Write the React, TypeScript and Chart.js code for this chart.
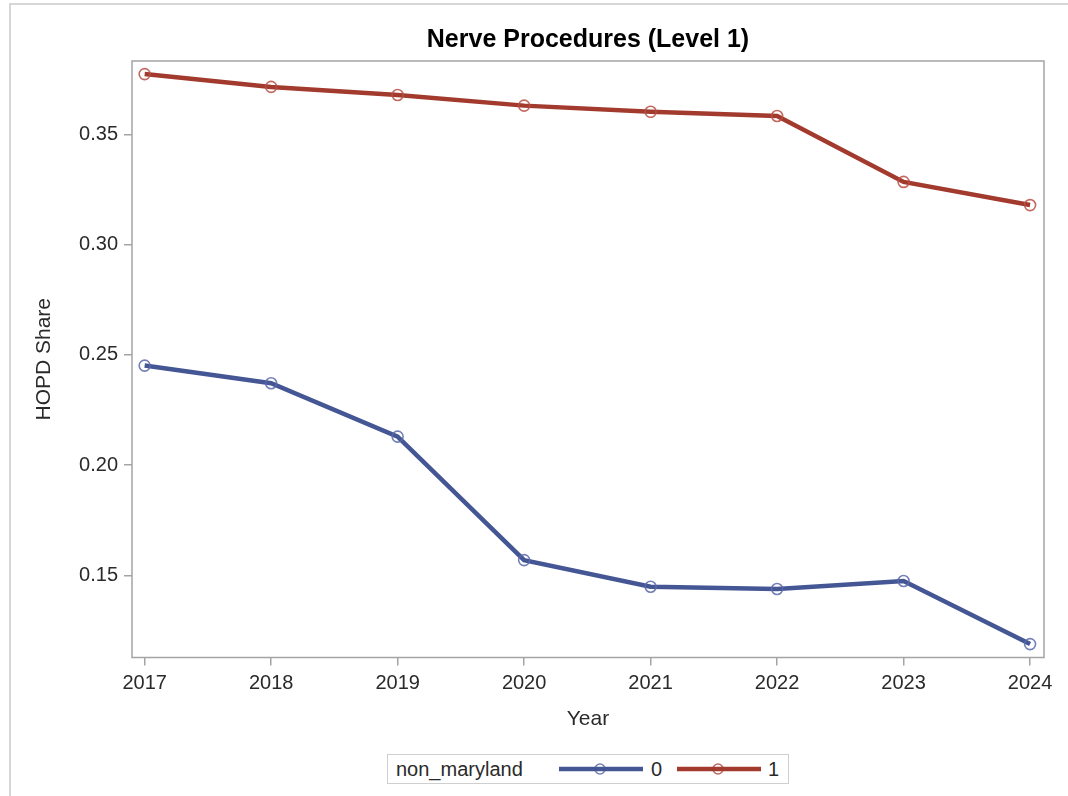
import React, { useEffect, useRef } from "react";
import { Chart, registerables } from "chart.js";

Chart.register(...registerables);

const years = [2017, 2018, 2019, 2020, 2021, 2022, 2023, 2024];
const nonMaryland0 = [0.2451, 0.2371, 0.2129, 0.1569, 0.1448, 0.1438, 0.1474, 0.1188];
const nonMaryland1 = [0.3773, 0.3715, 0.3678, 0.363, 0.3602, 0.3583, 0.3284, 0.3179];
const yTickValues = [0.15, 0.2, 0.25, 0.3, 0.35];
const xTickValues = years;
const seriesLabels = ["0", "1"];
const legendTitle = "non_maryland";
const chartTitle = "Nerve Procedures (Level 1)";
const xTitle = "Year";
const yTitle = "HOPD Share";

const BLUE = "#445694";
const RED = "#A23A2E";
const FONT = "'Liberation Sans', Arial, sans-serif";
const TEXT = "#2a2a2a";
const FRAME = "#a4a4a4";

const framePlugin = {
  id: "frame",
  afterDatasetsDraw(chart: any) {
    const { ctx, chartArea } = chart;
    ctx.save();
    ctx.strokeStyle = FRAME;
    ctx.lineWidth = 1.5;
    ctx.strokeRect(chartArea.left, chartArea.top, chartArea.right - chartArea.left, chartArea.bottom - chartArea.top);
    ctx.restore();
  },
};

function LegendLine({ color }: { color: string }) {
  return (
    <svg width={84} height={14} style={{ display: "block" }}>
      <line x1={0} y1={7} x2={84} y2={7} stroke={color} strokeWidth={4.5} />
      <circle cx={41} cy={7} r={5} fill="none" stroke={color} strokeOpacity={0.75} strokeWidth={1.5} />
    </svg>
  );
}

export default function App() {
  const ref = useRef<HTMLCanvasElement | null>(null);

  useEffect(() => {
    if (!ref.current) return;
    const mk = (vals: number[]) => years.map((x, i) => ({ x, y: vals[i] }));
    const chart = new Chart(ref.current, {
      type: "line",
      data: {
        datasets: [
          {
            label: seriesLabels[0],
            data: mk(nonMaryland0),
            borderColor: BLUE,
            borderWidth: 4.5,
            pointRadius: 5.5,
            pointBorderWidth: 1.6,
            pointBorderColor: "rgba(90,106,170,0.85)",
            pointBackgroundColor: "rgba(0,0,0,0)",
            tension: 0,
          },
          {
            label: seriesLabels[1],
            data: mk(nonMaryland1),
            borderColor: RED,
            borderWidth: 4.5,
            pointRadius: 5.5,
            pointBorderWidth: 1.6,
            pointBorderColor: "rgba(185,80,68,0.85)",
            pointBackgroundColor: "rgba(0,0,0,0)",
            tension: 0,
          },
        ],
      },
      options: {
        responsive: false,
        animation: false,
        layout: { padding: { left: 0, right: 24, top: 0, bottom: 0 } },
        plugins: {
          legend: { display: false },
          tooltip: { enabled: false },
          title: {
            display: true,
            text: chartTitle,
            fullSize: false,
            color: "#000",
            font: { family: FONT, size: 25, weight: "bold", lineHeight: 1.2 },
            padding: { top: 25.5, bottom: 5.5 },
          },
        },
        scales: {
          x: {
            type: "linear",
            min: 2016.9,
            max: 2024.11,
            afterFit: (s: any) => {
              s.height = 87.5;
            },
            afterBuildTicks: (s: any) => {
              s.ticks = xTickValues.map((v) => ({ value: v }));
            },
            border: { display: false },
            grid: { drawOnChartArea: false, drawTicks: true, tickLength: 8, color: FRAME, lineWidth: 1.5 },
            ticks: {
              color: TEXT,
              padding: 6,
              font: { family: FONT, size: 20 },
              autoSkip: false,
              maxRotation: 0,
              callback: (v: any) => String(v),
            },
            title: {
              display: true,
              text: xTitle,
              color: TEXT,
              font: { family: FONT, size: 21, lineHeight: 1.2 },
              padding: { top: 0, bottom: 13.4 },
            },
          },
          y: {
            type: "linear",
            min: 0.11272,
            max: 0.38324,
            afterFit: (s: any) => {
              s.width = 132;
            },
            afterBuildTicks: (s: any) => {
              s.ticks = yTickValues.map((v) => ({ value: v }));
            },
            border: { display: false },
            grid: { drawOnChartArea: false, drawTicks: true, tickLength: 8, color: FRAME, lineWidth: 1.5 },
            ticks: {
              color: TEXT,
              padding: 6,
              font: { family: FONT, size: 20 },
              callback: (v: any) => Number(v).toFixed(2),
            },
            title: {
              display: true,
              text: yTitle,
              color: TEXT,
              font: { family: FONT, size: 21, lineHeight: 1.2 },
              padding: { top: 32, bottom: 0 },
            },
          },
        },
      },
      plugins: [framePlugin],
    } as any);
    return () => chart.destroy();
  }, []);

  const legendText: React.CSSProperties = {
    position: "absolute",
    fontFamily: FONT,
    fontSize: 20,
    color: TEXT,
    lineHeight: "29px",
    top: 0,
  };

  return (
    <div style={{ position: "absolute", left: 0, top: 0, width: 1068, height: 796, background: "#fff", overflow: "hidden" }}>
      <div
        style={{
          position: "absolute",
          left: 9,
          top: 3,
          width: 1070,
          height: 800,
          borderLeft: "2px solid #d6d6d6",
          borderTop: "2px solid #d6d6d6",
        }}
      />
      <canvas ref={ref} width={1068} height={745} style={{ position: "absolute", left: 0, top: 0, width: 1068, height: 745 }} />
      <div
        style={{
          position: "absolute",
          left: 387,
          top: 754,
          width: 402,
          height: 30,
          border: "1.5px solid #cfcfcf",
          boxSizing: "border-box",
        }}
      >
        <span style={{ ...legendText, left: 8 }}>{legendTitle}</span>
        <div style={{ position: "absolute", left: 171, top: 7 }}>
          <LegendLine color={BLUE} />
        </div>
        <span style={{ ...legendText, left: 263 }}>{seriesLabels[0]}</span>
        <div style={{ position: "absolute", left: 289, top: 7 }}>
          <LegendLine color={RED} />
        </div>
        <span style={{ ...legendText, left: 380 }}>{seriesLabels[1]}</span>
      </div>
    </div>
  );
}
